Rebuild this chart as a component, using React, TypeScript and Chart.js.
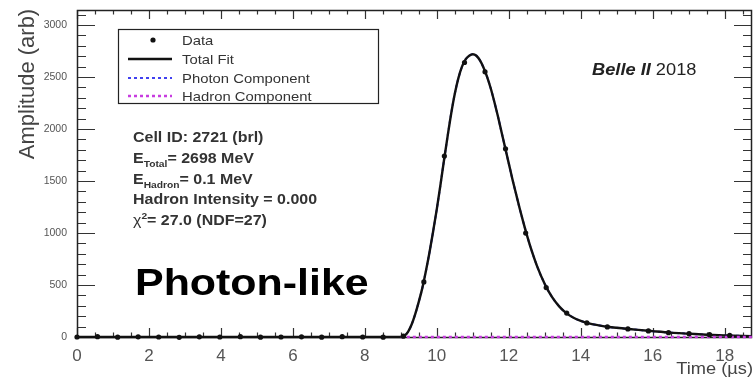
import React, { useEffect, useRef } from 'react';
import { Chart, registerables } from 'chart.js';

Chart.register(...registerables);

// ---- data ----
const sampleTime = [0, 0.57, 1.13, 1.7, 2.27, 2.84, 3.4, 3.97, 4.54, 5.1, 5.67, 6.24, 6.8, 7.37, 7.94, 8.51, 9.07, 9.64, 10.21, 10.77, 11.34, 11.91, 12.47, 13.04, 13.61, 14.17, 14.74, 15.31, 15.88, 16.44, 17.01, 17.58, 18.14];
const sampleAmp = [0, 3, -2, 2, 0, -3, 2, 0, 3, -2, 0, 2, -2, 3, 0, -2, 8, 530, 1740, 2640, 2550, 1810, 1000, 475, 230, 135, 97, 78, 58, 42, 32, 22, 15];

const fitTime = [0, 9.0, 9.1, 9.2, 9.3, 9.4, 9.5, 9.6, 9.7, 9.8, 9.9, 10.0, 10.1, 10.2, 10.3, 10.4, 10.5, 10.6, 10.7, 10.8, 10.9, 11.0, 11.1, 11.2, 11.3, 11.4, 11.5, 11.6, 11.7, 11.8, 11.9, 12.0, 12.1, 12.2, 12.3, 12.4, 12.5, 12.6, 12.8, 13.0, 13.2, 13.4, 13.6, 13.8, 14.0, 14.2, 14.5, 14.8, 15.2, 15.6, 16.0, 16.5, 17.0, 17.5, 18.0, 18.76];
const fitAmp = [0, 0, 12, 50, 120, 220, 340, 475, 640, 820, 1020, 1230, 1460, 1700, 1930, 2150, 2340, 2490, 2600, 2670, 2705, 2720, 2705, 2660, 2590, 2500, 2390, 2260, 2120, 1970, 1820, 1670, 1520, 1380, 1240, 1110, 985, 870, 670, 510, 385, 295, 230, 185, 155, 133, 112, 96, 82, 68, 56, 42, 32, 22, 15, 8];

// photon component equals the total fit here (hadron intensity 0)
const photonTime = fitTime;
const photonAmp = fitAmp;

const hadronTime = [9.0, 18.76];
const hadronAmp = [0, 0];

const xTickValues = [0, 2, 4, 6, 8, 10, 12, 14, 16, 18];
const yTickValues = [0, 500, 1000, 1500, 2000, 2500, 3000];
const xMinorStep = 0.5;
const yMinorStep = 100;
const xMajorStep = 2;
const yMajorStep = 500;

const legendLabels = ['Data', 'Total Fit', 'Photon Component', 'Hadron Component'];
const cellLine = 'Cell ID: 2721 (brl)';
const eTotalValue = '= 2698 MeV';
const eHadronValue = '= 0.1 MeV';
const intensityLine = 'Hadron Intensity = 0.000';
const chiValue = '= 27.0 (NDF=27)';

const FONT = '"Liberation Sans", Arial, Helvetica, sans-serif';
const SX = 1.14;

function drawText(ctx: CanvasRenderingContext2D, s: string, x: number, y: number, font: string, color: string, sx = SX, align: CanvasTextAlign = 'left'): number {
  ctx.save();
  ctx.font = font;
  const w = ctx.measureText(s).width * sx;
  ctx.translate(x, y);
  ctx.scale(sx, 1);
  ctx.fillStyle = color;
  ctx.textAlign = align;
  ctx.textBaseline = 'alphabetic';
  ctx.fillText(s, 0, 0);
  ctx.restore();
  return w;
}

const framePlugin = {
  id: 'frameTicks',
  beforeDatasetsDraw(chart: any) {
    const { ctx, chartArea: a, scales } = chart;
    const x = scales.x;
    const y = scales.y;
    ctx.save();
    ctx.strokeStyle = '#333';
    ctx.lineWidth = 1.2;
    const nx = Math.floor((x.max - x.min) / xMinorStep + 1e-6);
    for (let i = 0; i <= nx; i++) {
      const v = x.min + i * xMinorStep;
      const px = Math.round(x.getPixelForValue(v)) + 0.5;
      const major = Math.abs(v / xMajorStep - Math.round(v / xMajorStep)) < 1e-6;
      const len = major ? 9 : 4.5;
      ctx.beginPath();
      ctx.moveTo(px, a.bottom);
      ctx.lineTo(px, a.bottom - len);
      ctx.moveTo(px, a.top);
      ctx.lineTo(px, a.top + len);
      ctx.stroke();
    }
    const ny = Math.floor((y.max - y.min) / yMinorStep + 1e-6);
    for (let i = 0; i <= ny; i++) {
      const v = y.min + i * yMinorStep;
      const py = Math.round(y.getPixelForValue(v)) + 0.5;
      const major = Math.abs(v / yMajorStep - Math.round(v / yMajorStep)) < 1e-6;
      const len = major ? 18 : 9;
      ctx.beginPath();
      ctx.moveTo(a.left, py);
      ctx.lineTo(a.left + len, py);
      ctx.moveTo(a.right, py);
      ctx.lineTo(a.right - len, py);
      ctx.stroke();
    }
    ctx.strokeStyle = '#222';
    ctx.lineWidth = 1.5;
    ctx.strokeRect(a.left + 0.5, a.top + 0.5, a.right - a.left - 1, a.bottom - a.top);
    ctx.restore();
  },
  afterDraw(chart: any) {
    const { ctx } = chart;
    const ds = chart.data.datasets;
    ctx.save();
    ctx.strokeStyle = '#222';
    ctx.lineWidth = 1.2;
    ctx.strokeRect(118.5, 29.5, 260, 74);
    const rows = [40, 59, 78, 96];
    const lx0 = 128, lx1 = 172, tx = 182;
    ctx.fillStyle = ds[0].pointBackgroundColor;
    ctx.beginPath();
    ctx.arc(153, rows[0], 2.6, 0, Math.PI * 2);
    ctx.fill();
    const lineRows = [[2, rows[1]], [3, rows[2]], [1, rows[3]]];
    for (const [di, ry] of lineRows) {
      const d = ds[di as number];
      ctx.strokeStyle = d.borderColor;
      ctx.lineWidth = d.borderWidth;
      ctx.setLineDash(d.borderDash || []);
      ctx.beginPath();
      ctx.moveTo(lx0, ry as number);
      ctx.lineTo(lx1, ry as number);
      ctx.stroke();
    }
    ctx.setLineDash([]);
    legendLabels.forEach((s, i) => drawText(ctx, s, tx, rows[i] + 5, `13.5px ${FONT}`, '#333', 1.1));

    const bf = `bold 14px ${FONT}`;
    const sf = `bold 9px ${FONT}`;
    const col = '#333';
    const ix = 133;
    drawText(ctx, cellLine, ix, 142, bf, col);
    let w = drawText(ctx, 'E', ix, 163, bf, col);
    w += drawText(ctx, 'Total', ix + w, 167, sf, col);
    drawText(ctx, eTotalValue, ix + w, 163, bf, col);
    w = drawText(ctx, 'E', ix, 184, bf, col);
    w += drawText(ctx, 'Hadron', ix + w, 188, sf, col);
    drawText(ctx, eHadronValue, ix + w, 184, bf, col);
    drawText(ctx, intensityLine, ix, 204, bf, col);
    w = drawText(ctx, '\u03C7', ix, 225, `14px ${FONT}`, col);
    w += drawText(ctx, '2', ix + w, 219, sf, col);
    drawText(ctx, chiValue, ix + w, 225, bf, col);

    w = drawText(ctx, 'Belle II', 592, 75, `italic bold 16px ${FONT}`, '#222');
    drawText(ctx, ' 2018', 592 + w, 75, `16px ${FONT}`, '#222');

    drawText(ctx, 'Photon-like', 135, 295, `bold 37px ${FONT}`, '#000', 1.16);

    drawText(ctx, 'Time (\u00B5s)', 753, 374, `16px ${FONT}`, '#444', SX, 'right');
    ctx.save();
    ctx.translate(34, 84);
    ctx.rotate(-Math.PI / 2);
    ctx.font = `22px ${FONT}`;
    ctx.fillStyle = '#444';
    ctx.textAlign = 'center';
    ctx.textBaseline = 'alphabetic';
    ctx.fillText('Amplitude (arb)', 0, 0);
    ctx.restore();
    ctx.restore();
  },
};

export default function App() {
  const ref = useRef<HTMLCanvasElement | null>(null);
  useEffect(() => {
    if (!ref.current) return;
    const chart = new Chart(ref.current, {
      type: 'line',
      data: {
        datasets: [
          {
            label: legendLabels[0],
            data: sampleTime.map((t, i) => ({ x: t, y: sampleAmp[i] })),
            showLine: false,
            pointRadius: 2.6,
            pointBackgroundColor: '#111',
            pointBorderWidth: 0,
            borderColor: '#111',
            clip: 4,
          } as any,
          {
            label: legendLabels[3],
            data: hadronTime.map((t, i) => ({ x: t, y: hadronAmp[i] })),
            borderColor: '#c83ce0',
            borderWidth: 2.4,
            borderDash: [3, 3],
            pointRadius: 0,
            clip: 4,
          } as any,
          {
            label: legendLabels[1],
            data: fitTime.map((t, i) => ({ x: t, y: fitAmp[i] })),
            borderColor: '#111',
            borderWidth: 2.4,
            pointRadius: 0,
            cubicInterpolationMode: 'monotone',
            clip: 4,
          } as any,
          {
            label: legendLabels[2],
            data: photonTime.map((t, i) => ({ x: t, y: photonAmp[i] })),
            borderColor: '#4040f0',
            borderWidth: 2,
            borderDash: [3, 3],
            pointRadius: 0,
            cubicInterpolationMode: 'monotone',
            clip: 4,
          } as any,
        ],
      },
      options: {
        animation: false,
        responsive: false,
        layout: { padding: { top: 10, right: 0, left: 0, bottom: 0 } },
        plugins: { legend: { display: false }, tooltip: { enabled: false } },
        scales: {
          x: {
            type: 'linear',
            min: 0,
            max: 18.76,
            grid: { display: false },
            border: { display: false },
            afterBuildTicks: (s: any) => { s.ticks = xTickValues.map((v) => ({ value: v })); },
            afterFit: (s: any) => { s.height = 40; },
            ticks: { font: { family: FONT, size: 17 }, color: '#555', padding: 1, maxRotation: 0, autoSkip: false, callback: (v: any) => String(v) },
          },
          y: {
            type: 'linear',
            min: 0,
            max: 3145,
            grid: { display: false },
            border: { display: false },
            afterBuildTicks: (s: any) => { s.ticks = yTickValues.map((v) => ({ value: v })); },
            afterFit: (s: any) => { s.width = 77; },
            ticks: { font: { family: FONT, size: 10.5 }, color: '#555', padding: 2, autoSkip: false, callback: (v: any) => String(v) },
          },
        },
      },
      plugins: [framePlugin],
    });
    return () => chart.destroy();
  }, []);
  return (
    <div style={{ position: 'absolute', left: 0, top: 0, width: 756, height: 377, background: '#fff' }}>
      <canvas ref={ref} width={756} height={377} style={{ display: 'block' }} />
    </div>
  );
}
